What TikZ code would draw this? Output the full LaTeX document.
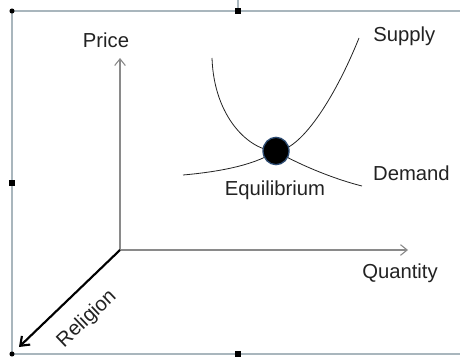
\documentclass[tikz,border=0pt]{standalone}
\usepackage{fontspec}
\setmainfont{Liberation Sans}
\usetikzlibrary{arrows.meta,shapes.geometric}
\definecolor{framegray}{HTML}{A9B6BD}
\definecolor{axisgray}{HTML}{8A8A8A}
\definecolor{inkgray}{HTML}{222222}
\definecolor{dotrim}{HTML}{2E4C72}

\begin{document}
\begin{tikzpicture}[x=0.75pt, y=-0.75pt,
	every node/.style={font=\fontsize{15.2}{18}\selectfont, text=inkgray, inner sep=0pt},
	axis/.style={axisgray, line width=0.8pt, -{Straight Barb[length=5pt, width=8pt]}},
	curve/.style={inkgray, line width=0.6pt},
	handle/.style={fill=black, inner sep=0pt, minimum size=3.8pt}]
	\useasboundingbox (0,0) rectangle (460,360);
	% frame of the slide object
	\draw[framegray, line width=0.8pt] (460,11) -- (12,11) -- (12,354) -- (460,354);
	\draw[framegray, line width=0.8pt] (238,0) -- (238,9);
	\node[handle, circle] at (12,11) {};
	\node[handle, circle] at (12,354) {};
	\node[handle] at (238,11) {};
	\node[handle] at (12,183) {};
	\node[handle] at (238,354) {};
	% axes
	\coordinate (origin) at (120,250);
	\coordinate (ptip) at (120,58);
	\coordinate (qtip) at (408,250);
	\coordinate (rtip) at (19,347);
	\draw[axis] (origin) -- (ptip);
	\draw[axis] (origin) -- (qtip);
	\draw[black, line width=1.6pt, -{Straight Barb[length=6pt, width=9pt]}] (origin) -- (rtip);
	\node[anchor=base] (price) at (106,48) {Price};
	\node[anchor=base west] (quantity) at (362,278) {Quantity};
	\node[rotate=43.6] (religion) at (87,319) {Religion};
	% supply and demand
	\coordinate (eqc) at (276,151);
	\coordinate (supplylo) at (212,58);
	\coordinate (supplyhi) at (359,38);
	\coordinate (demandl) at (183,175);
	\coordinate (demandr) at (362,186);
	\draw[curve] (supplylo) .. controls (214,118) and (250,151) .. (eqc) .. controls (300,151) and (334,100) .. (supplyhi);
	\draw[curve] (demandl) .. controls (228,171) and (258,163) .. (eqc) .. controls (294,162) and (330,178) .. (demandr);
	\node[ellipse, fill=black, draw=dotrim, line width=1pt, minimum width=19.5pt, minimum height=20.5pt] (eq) at (eqc) {};
	\node[anchor=base west] (supply) at (373,42) {Supply};
	\node[anchor=base east] (demand) at (450,180) {Demand};
	\node[anchor=base] (equilibrium) at (275,195) {Equilibrium};
\end{tikzpicture}
\end{document}
